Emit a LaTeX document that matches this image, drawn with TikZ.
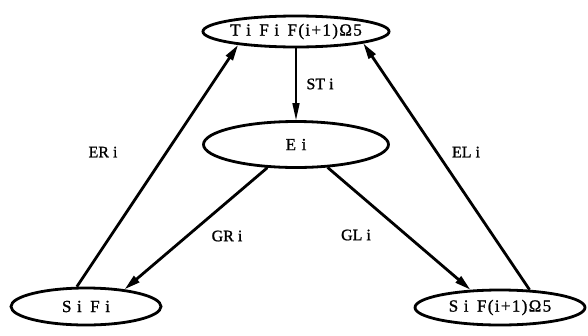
\documentclass[tikz,border=0pt]{standalone}
\usepackage{fontspec}
\setmainfont{Liberation Serif}[FakeBold=1.2]
\usetikzlibrary{shapes.geometric,arrows.meta}
\begin{document}
\begin{tikzpicture}[x=1pt,y=-1pt,
  state/.style={ellipse,draw,line width=2.8pt,inner sep=0pt,font=\fontsize{17}{19}\selectfont},
  trans/.style={line width=2.8pt,-{Triangle[length=16pt,width=8pt]}},
  lbl/.style={font=\fontsize{16}{18}\selectfont,inner sep=0pt}]
  \useasboundingbox (0,0) rectangle (588,335);
  % states
  \node[state,minimum width=185pt,minimum height=31pt] (top) at (296,31.5)
    {\addfontfeature{LetterSpace=8}T i\, F i\, F(i+1)Ω5};
  \node[state,minimum width=185pt,minimum height=46pt] (e) at (296,144.5)
    {\addfontfeature{LetterSpace=8}E i};
  \node[state,minimum width=150pt,minimum height=37pt] (sf) at (86,306.5)
    {\addfontfeature{LetterSpace=8}S i\, F i};
  \node[state,minimum width=170pt,minimum height=35pt] (sfo) at (500,307.5)
    {\addfontfeature{LetterSpace=8}S i\, F(i+1)Ω5};
  % transitions
  \draw[trans,line width=1.6pt,-{Triangle[length=17pt,width=7pt]}] (top.south) -- (e.north);
  \draw[trans] (sf.115) -- (top.193);
  \draw[trans] (e.219) -- (sf.24);
  \draw[trans] (e.-36) -- (sfo.149);
  \draw[trans] (sfo.31) -- (top.-10);
  % labels
  \node[lbl] (lst) at (320,84) {ST i};
  \node[lbl] (ler) at (103,152) {ER i};
  \node[lbl] (lel) at (466,152) {EL i};
  \node[lbl] (lgr) at (227,236) {GR i};
  \node[lbl] (lgl) at (356,235) {GL i};
\end{tikzpicture}
\end{document}
